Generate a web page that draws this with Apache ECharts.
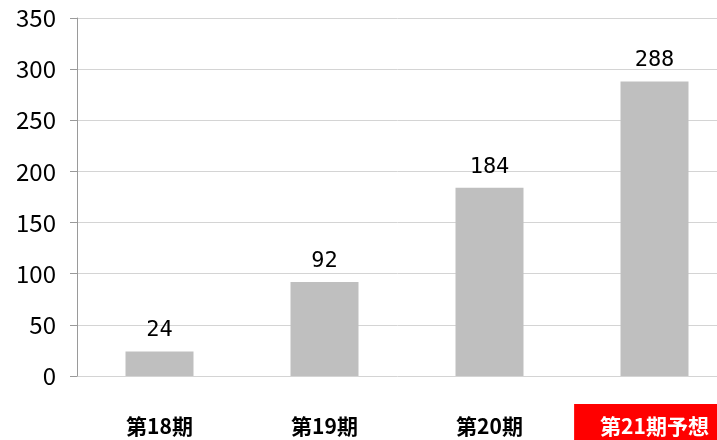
<!DOCTYPE html>
<html>
<head>
<meta charset="utf-8">
<script src="https://cdn.jsdelivr.net/npm/echarts@6/dist/echarts.min.js"></script>
<style>
  html, body { margin: 0; padding: 0; background: #fff; }
  #chart { width: 717px; height: 440px; }
</style>
</head>
<body>
<div id="chart"></div>
<script>
// Periods and values (last one is a forecast)
const categories = ['第18期', '第19期', '第20期', '第21期予想'];
const values = [24, 92, 184, 288];
const forecastIndex = 3;

const FONT = '"Noto Sans CJK JP", "Noto Sans", sans-serif';
const NUM_FONT = '"DejaVu Sans Mono", "Liberation Mono", monospace';

const chart = echarts.init(document.getElementById('chart'));
chart.setOption({
  animation: false,
  backgroundColor: '#ffffff',
  grid: {
    left: 77, top: 18, width: 660, height: 358,
    containLabel: false, outerBoundsMode: 'none'
  },
  xAxis: {
    type: 'category',
    data: categories,
    axisLine: { show: false },
    axisTick: { show: false },
    axisLabel: {
      margin: 28,
      interval: 0,
      formatter: (v, i) => (i === forecastIndex ? '{hl|' + v + '}' : '{n|' + v + '}'),
      rich: {
        n: {
          fontFamily: FONT, fontWeight: 'bold', fontSize: 21, color: '#000',
          padding: [12, 26, 12, 26]
        },
        hl: {
          fontFamily: FONT, fontWeight: 'bold', fontSize: 21, color: '#fff',
          backgroundColor: '#ff0000', padding: [12, 26, 12, 26]
        }
      }
    }
  },
  yAxis: {
    type: 'value',
    min: 0,
    max: 350,
    interval: 50,
    axisLine: { show: true, lineStyle: { color: '#9a9a9a', width: 1 } },
    axisTick: { show: true, length: 7, lineStyle: { color: '#9a9a9a' } },
    splitLine: { show: true, lineStyle: { color: '#d4d4d4', width: 1 } },
    axisLabel: { fontFamily: FONT, fontSize: 24, color: '#000', margin: 21 }
  },
  series: [{
    type: 'bar',
    data: values,
    barWidth: 68,
    itemStyle: { color: '#bfbfbf' },
    label: {
      show: true,
      position: 'top',
      distance: 10,
      fontFamily: NUM_FONT,
      fontSize: 22,
      color: '#000'
    }
  }]
});
</script>
</body>
</html>
